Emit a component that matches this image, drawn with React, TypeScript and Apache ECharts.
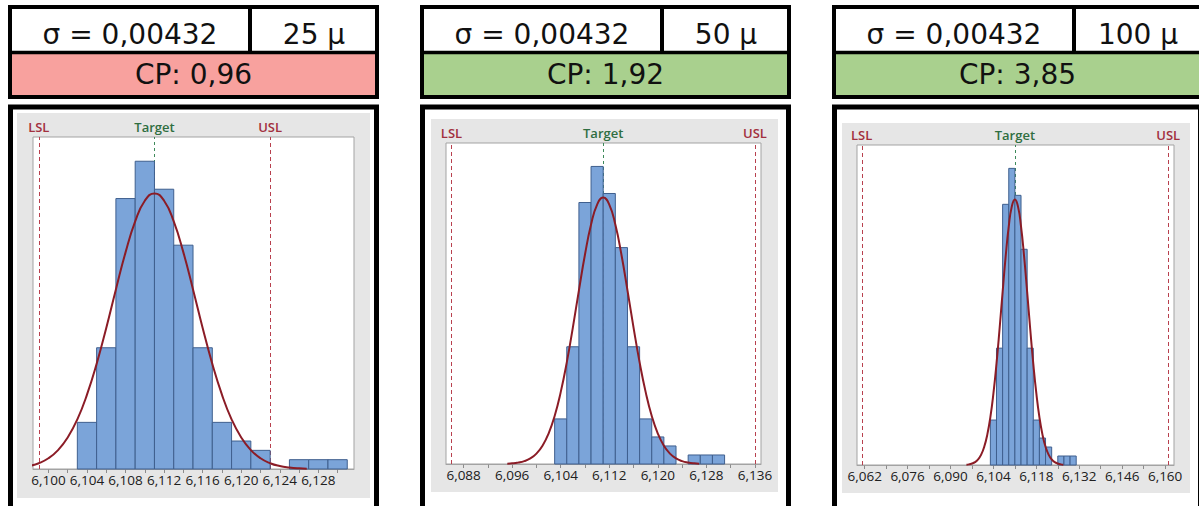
import React, { useEffect, useRef } from "react";
import * as echarts from "echarts";

// ---------- data ----------
const binStart = [6.103, 6.105, 6.107, 6.109, 6.111, 6.113, 6.115, 6.117, 6.119, 6.121, 6.123, 6.125, 6.127, 6.129];
const binEnd = [6.105, 6.107, 6.109, 6.111, 6.113, 6.115, 6.117, 6.119, 6.121, 6.123, 6.125, 6.127, 6.129, 6.131];
const binCount = [5, 13, 29, 33, 30, 24, 13, 5, 3, 2, 0, 1, 1, 1];

const curveX = [6.0952, 6.096, 6.097, 6.098, 6.099, 6.1, 6.101, 6.102, 6.103, 6.104, 6.105, 6.106, 6.107, 6.108, 6.109, 6.11, 6.111, 6.112, 6.113, 6.114, 6.115, 6.116, 6.117, 6.118, 6.119, 6.12, 6.121, 6.122, 6.123, 6.124, 6.125, 6.126, 6.1268];
const curveY = [0.04, 0.07, 0.16, 0.32, 0.62, 1.15, 2.03, 3.38, 5.32, 7.97, 11.27, 15.13, 19.26, 23.23, 26.55, 28.77, 29.55, 28.77, 26.55, 23.23, 19.26, 15.13, 11.27, 7.97, 5.32, 3.38, 2.03, 1.15, 0.62, 0.32, 0.16, 0.07, 0.04];

const sigmaLabels = ["σ = 0,00432", "σ = 0,00432", "σ = 0,00432"];
const toleranceLabels = ["25 µ", "50 µ", "100 µ"];
const cpLabels = ["CP: 0,96", "CP: 1,92", "CP: 3,85"];

const specNames = ["LSL", "Target", "USL"];
const lslValues = [6.099, 6.086, 6.061];
const targetValues = [6.111, 6.111, 6.111];
const uslValues = [6.123, 6.136, 6.161];

const axisMin = [6.0984, 6.0851, 6.0595];
const axisMax = [6.1317, 6.137, 6.1629];
const yMax = 35.6;

const tickLabels = [
  [6.1, 6.104, 6.108, 6.112, 6.116, 6.12, 6.124, 6.128],
  [6.088, 6.096, 6.104, 6.112, 6.12, 6.128, 6.136],
  [6.062, 6.076, 6.09, 6.104, 6.118, 6.132, 6.146, 6.16],
];
const tickMarks = [
  [6.1, 6.102, 6.104, 6.106, 6.108, 6.11, 6.112, 6.114, 6.116, 6.118, 6.12, 6.122, 6.124, 6.126, 6.128, 6.13],
  [6.088, 6.092, 6.096, 6.1, 6.104, 6.108, 6.112, 6.116, 6.12, 6.124, 6.128, 6.132, 6.136],
  [6.062, 6.069, 6.076, 6.083, 6.09, 6.097, 6.104, 6.111, 6.118, 6.125, 6.132, 6.139, 6.146, 6.153, 6.16],
];

// ---------- layout / style ----------
const PANEL_DX = 412;
const cpColors = ["#F8A19E", "#A9D08E", "#A9D08E"];
const gridBoxes = [
  { left: 33, top: 137, width: 321, height: 332 },
  { left: 446, top: 143, width: 315, height: 321 },
  { left: 857, top: 145, width: 317, height: 320 },
];
const grayBoxes = [
  { x: 17, y: 113, w: 353, h: 385 },
  { x: 19, y: 119, w: 347, h: 373 },
  { x: 18, y: 123, w: 348, h: 370 },
];
const SPEC_RED = "#A2303E";
const TARGET_GREEN = "#2F6E41";
const specLineColors = ["#B8404E", "#3E8A5A", "#B8404E"];
const specTextColors = [SPEC_RED, TARGET_GREEN, SPEC_RED];
const fmt = (v: number) => v.toFixed(3).replace(".", ",");

export default function App() {
  const ref = useRef<HTMLDivElement>(null);

  useEffect(() => {
    if (!ref.current) return;
    const chart = echarts.init(ref.current, undefined, { renderer: "svg" });

    const grids: any[] = [];
    const xAxes: any[] = [];
    const yAxes: any[] = [];
    const series: any[] = [];
    const graphic: any[] = [];

    for (let i = 0; i < 3; i++) {
      const ox = i * PANEL_DX;
      const g = gridBoxes[i];
      grids.push({
        left: g.left,
        top: g.top,
        width: g.width,
        height: g.height,
        show: true,
        backgroundColor: "#ffffff",
        borderColor: "#A3A3A3",
        borderWidth: 1,
        z: 1,
      });
      xAxes.push({
        type: "value",
        gridIndex: i,
        min: axisMin[i],
        max: axisMax[i],
        axisLine: { show: true, onZero: false, lineStyle: { color: "#A3A3A3", width: 1 } },
        axisTick: {
          show: true,
          length: 4,
          customValues: tickMarks[i],
          lineStyle: { color: "#8C8C8C" },
        },
        axisLabel: {
          customValues: tickLabels[i],
          formatter: (v: number) => fmt(v),
          fontFamily: "Open Sans",
          fontSize: 13.5,
          color: "#202020",
          margin: 4,
        },
        splitLine: { show: false },
      });
      yAxes.push({ type: "value", gridIndex: i, min: 0, max: yMax, show: false });

      // spec limit lines (LSL / Target / USL)
      const specVals = [lslValues[i], targetValues[i], uslValues[i]];
      series.push({
        type: "custom",
        xAxisIndex: i,
        yAxisIndex: i,
        z: 1,
        silent: true,
        clip: false,
        encode: { x: 0 },
        data: specVals.map((v, k) => [v, k]),
        renderItem: (_p: any, api: any) => {
          const v = api.value(0);
          const k = api.value(1);
          const b = api.coord([v, 0]);
          const t = api.coord([v, yMax]);
          const x = Math.round(b[0]) + 0.5;
          return {
            type: "group",
            children: [
              {
                type: "line",
                shape: { x1: x, y1: b[1], x2: x, y2: t[1] },
                style: {
                  stroke: specLineColors[k],
                  lineWidth: 1,
                  lineDash: k === 1 ? [3, 3] : [4, 3],
                },
              },
              {
                type: "text",
                x: t[0],
                y: t[1] - 10,
                style: {
                  text: specNames[k],
                  fill: specTextColors[k],
                  font: '600 13px "Open Sans"',
                  align: "center",
                  verticalAlign: "middle",
                },
              },
            ],
          };
        },
      });

      series.push({
        type: "custom",
        xAxisIndex: i,
        yAxisIndex: i,
        z: 2,
        encode: { x: [0, 1], y: 2 },
        data: binStart.map((s, k) => [s, binEnd[k], binCount[k]]),
        renderItem: (_p: any, api: any) => {
          const c = api.value(2);
          if (!c) return null;
          const p0 = api.coord([api.value(0), 0]);
          const p1 = api.coord([api.value(1), c]);
          return {
            type: "rect",
            shape: { x: p0[0], y: p1[1], width: p1[0] - p0[0], height: p0[1] - p1[1] },
            style: { fill: "#7BA4D9", stroke: "#3F5F8E", lineWidth: 1 },
          };
        },
      });

      series.push({
        type: "line",
        xAxisIndex: i,
        yAxisIndex: i,
        z: 3,
        smooth: true,
        showSymbol: false,
        clip: true,
        silent: true,
        data: curveX.map((x, k) => [x, curveY[k]]),
        lineStyle: { color: "#8B1C26", width: 2 },
      });

      // chart frame
      graphic.push({
        type: "rect",
        z: -10,
        shape: { x: ox + 10.5, y: 107, width: 366, height: 430 },
        style: { fill: "#ffffff", stroke: "#000000", lineWidth: 5 },
      });
      const gb = grayBoxes[i];
      graphic.push({
        type: "rect",
        z: -9,
        shape: { x: ox + gb.x, y: gb.y, width: gb.w, height: gb.h },
        style: { fill: "#E6E6E6" },
      });

      // header table
      graphic.push({
        type: "rect",
        z: 5,
        shape: { x: ox + 10, y: 7, width: 367, height: 90 },
        style: { fill: "#ffffff" },
      });
      graphic.push({
        type: "rect",
        z: 6,
        shape: { x: ox + 10, y: 52, width: 367, height: 45 },
        style: { fill: cpColors[i] },
      });
      graphic.push({
        type: "rect",
        z: 7,
        shape: { x: ox + 10, y: 7, width: 367, height: 90 },
        style: { fill: "none", stroke: "#000000", lineWidth: 4 },
      });
      graphic.push({
        type: "line",
        z: 7,
        shape: { x1: ox + 10, y1: 52.5, x2: ox + 377, y2: 52.5 },
        style: { stroke: "#000000", lineWidth: 3.5 },
      });
      graphic.push({
        type: "line",
        z: 7,
        shape: { x1: ox + 250, y1: 7, x2: ox + 250, y2: 52 },
        style: { stroke: "#000000", lineWidth: 4 },
      });
      const tfont = '28px "DejaVu Sans"';
      graphic.push({
        type: "text",
        z: 8,
        style: { text: sigmaLabels[i], x: ox + 130, y: 34.5, align: "center", verticalAlign: "middle", font: tfont, fill: "#111111" },
      });
      graphic.push({
        type: "text",
        z: 8,
        style: { text: toleranceLabels[i], x: ox + 314, y: 34.5, align: "center", verticalAlign: "middle", font: tfont, fill: "#111111" },
      });
      graphic.push({
        type: "text",
        z: 8,
        style: { text: cpLabels[i], x: ox + 193.5, y: 74.5, align: "center", verticalAlign: "middle", font: tfont, fill: "#111111" },
      });
    }

    chart.setOption({
      animation: false,
      backgroundColor: "#ffffff",
      grid: grids,
      xAxis: xAxes,
      yAxis: yAxes,
      series,
      graphic,
    });

    return () => chart.dispose();
  }, []);

  return (
    <div
      ref={ref}
      style={{ position: "absolute", left: 0, top: 0, width: 1199, height: 506, background: "#fff" }}
    />
  );
}
